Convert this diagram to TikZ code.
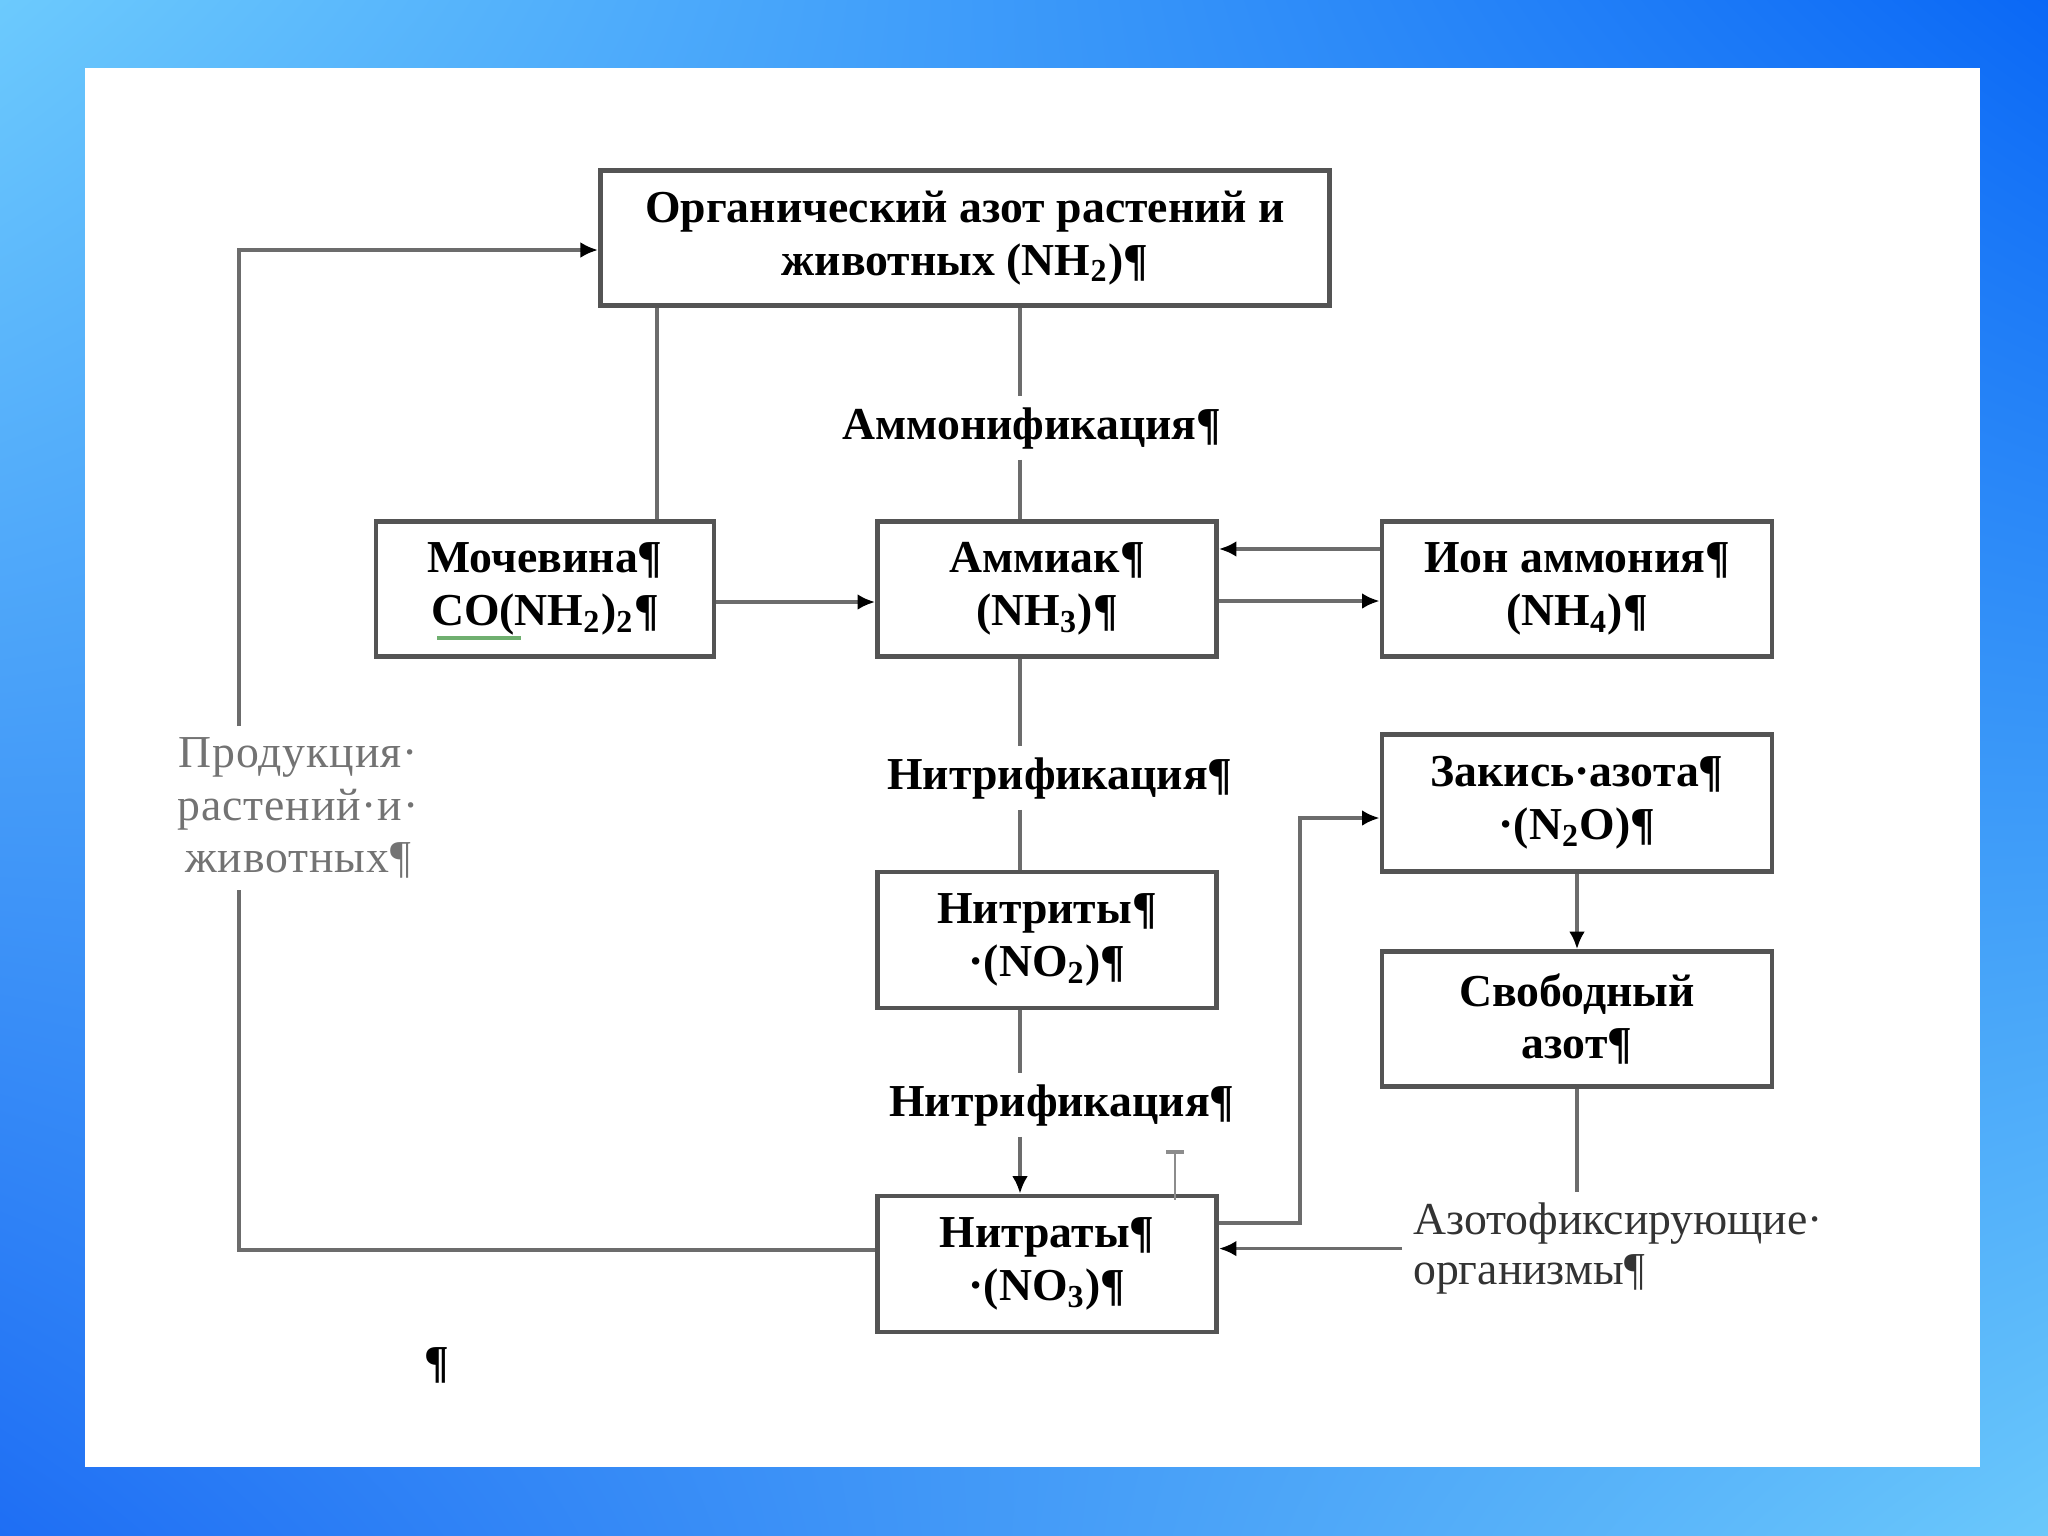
\documentclass[tikz,border=0pt]{standalone}
\usepackage{fontspec}
\setmainfont{Liberation Serif}
\usetikzlibrary{positioning}
\usetikzlibrary{calc}
\usetikzlibrary{arrows.meta}
\usetikzlibrary{shadings}
\definecolor{Frame}{HTML}{545454}
\definecolor{Wire}{HTML}{6C6C6C}
\definecolor{SkyTL}{HTML}{6CCAFD}
\definecolor{SkyTR}{HTML}{0A68F6}
\definecolor{SkyBL}{HTML}{1E6EF4}
\definecolor{SkyBR}{HTML}{6AC8FB}
\definecolor{Squiggle}{HTML}{6FAF6F}

\begin{document}
\begin{tikzpicture}[x=0.01cm, y=-0.01cm, >={Latex[length=5pt,width=4.5pt,color=black]},
    box/.style={draw=Frame, line width=1.3pt, fill=white, minimum width=#1,
      minimum height=1.35cm, align=center, inner sep=2pt,
      font=\fontsize{13}{15}\selectfont\bfseries},
    box/.default=3.39cm,
    line/.style={draw=Wire, line width=1pt},
    arr/.style={line, ->},
    proc/.style={inner sep=3pt, font=\fontsize{13}{15}\selectfont\bfseries},
    note/.style={inner sep=3pt, align=left, font=\fontsize{13}{14}\selectfont}]

      % background and sheet
      \useasboundingbox (0,0) rectangle (2048,1536);
      \shade[upper left=SkyTL, upper right=SkyTR, lower left=SkyBL, lower right=SkyBR]
        (0,0) rectangle (2048,1536);
      \fill[white] (85,68) rectangle (1980,1467);

      % boxes
      \node[box=7.29cm] at (965,238) (org) {Органический азот растений и\\животных (NH\textsubscript{2})¶};
      \node[box=3.38cm] at (545,589) (urea) {Мочевина¶\\CO(NH\textsubscript{2})\textsubscript{2}¶};
      \node[box] at (1047,589) (ammonia) {Аммиак¶\\(NH\textsubscript{3})¶};
      \node[box=3.90cm] at (1577,589) (ammonium) {Ион аммония¶\\(NH\textsubscript{4})¶};
      \node[box=3.90cm, minimum height=1.37cm] at (1577,803) (nitrous) {Закись·азота¶\\·(N\textsubscript{2}O)¶};
      \node[box=3.90cm] at (1577,1019) (freeN) {Свободный\\азот¶};
      \node[box, minimum height=1.36cm] at (1047,940) (nitrite) {Нитриты¶\\·(NO\textsubscript{2})¶};
      \node[box, minimum height=1.36cm] at (1047,1264) (nitrate) {Нитраты¶\\·(NO\textsubscript{3})¶};

      % process labels
      \node[proc] at (1032,428) (ammonif) {Аммонификация¶};
      \node[proc] at (1060,778) (nitrif1) {Нитрификация¶};
      \node[proc] at (1062,1105) (nitrif2) {Нитрификация¶};
      \node[note, align=center, text=black!55,
        font=\fontsize{13}{15}\selectfont\addfontfeature{LetterSpace=2}] at (298,808) (prod)
        {Продукция·\\растений·и·\\животных¶};
      \node[note, anchor=north west, text=black!80] at (1402,1192) (fixers)
        {Азотофиксирующие·\\организмы¶};
      \node[font=\fontsize{13}{15}\selectfont\bfseries] at (437,1365) (pilcrow) {¶};

      \coordinate (col) at (1020,0);
      \coordinate (lx) at (239,0);

      % main column
      \draw[line] (org.south -| col) -- (ammonif.north -| col);
      \draw[line] (ammonif.south -| col) -- (ammonia.north -| col);
      \draw[line] (ammonia.south -| col) -- (nitrif1.north -| col);
      \draw[line] (nitrif1.south -| col) -- (nitrite.north -| col);
      \draw[line] (nitrite.south -| col) -- (nitrif2.north -| col);
      \draw[arr] (nitrif2.south -| col) -- (nitrate.north -| col);

      % urea and ammonium
      \draw[line] ([xshift=1.12cm]urea.north) -- ([xshift=1.12cm]urea.north |- org.south);
      \draw[arr] ([yshift=-0.13cm]urea.east) -- ([yshift=-0.13cm]ammonia.west);
      \draw[arr] ([yshift=0.4cm]ammonium.west) -- ([yshift=0.4cm]ammonia.east);
      \draw[arr] ([yshift=-0.12cm]ammonia.east) -- ([yshift=-0.12cm]ammonium.west);

      % denitrification and fixation
      \draw[arr] ([yshift=0.41cm]nitrate.east) -- ++(81,0) |- ([yshift=-0.15cm]nitrous.west);
      \draw[arr] (nitrous.south) -- (freeN.north);
      \draw[line] (freeN.south) -- (freeN.south |- fixers.north);
      \draw[arr] (fixers.west) -- (fixers.west -| nitrate.east);

      % back to organisms
      \draw[line] ([yshift=0.14cm]nitrate.west) -| (prod.south -| lx);
      \draw[arr] (prod.north -| lx) |- ([yshift=-0.12cm]org.west);

      % editing marks
      \draw[Squiggle, line width=1.2pt] (437,638) -- (521,638);
      \draw[black!45, line width=0.8pt] (1175,1152) -- (1175,1200);
      \draw[black!45, line width=1pt] (1166,1152) -- (1184,1152);
\end{tikzpicture}
\end{document}
